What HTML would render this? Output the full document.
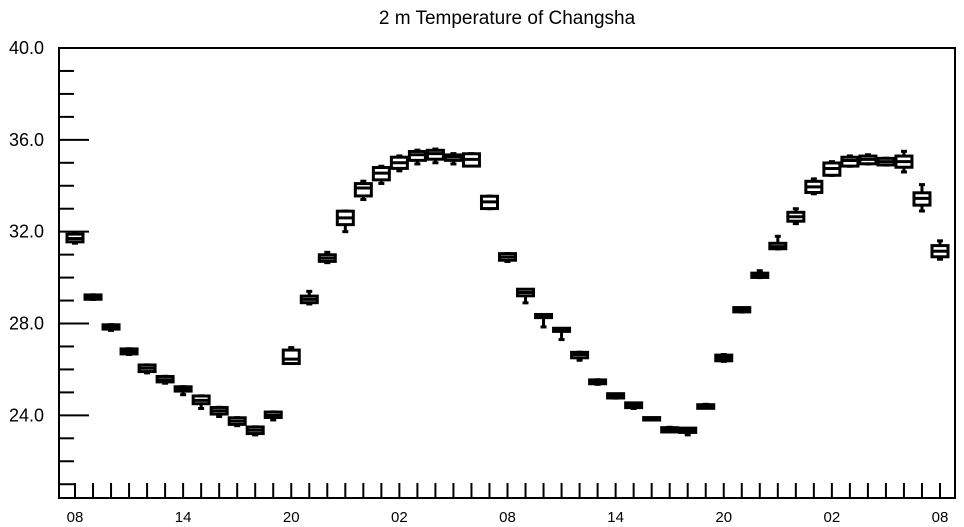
<!DOCTYPE html>
<html><head><meta charset="utf-8"><style>
body{margin:0;background:#fff;}
svg{display:block;font-family:"Liberation Sans",sans-serif;}
</style></head><body>
<svg id="chart" width="964" height="527" xmlns="http://www.w3.org/2000/svg">
<text x="507" y="24" text-anchor="middle" font-size="19">2 m Temperature of Changsha</text>
<g id="axes"></g>
<g id="boxes"></g>
</svg>
<script>
const hours = ["08","","","","","","14","","","","","","20","","","","","","02","","","","","","08","","","","","","14","","","","","","20","","","","","","02","","","","","","08"];
const mins = [31.5,29.05,27.7,26.65,25.85,25.4,24.9,24.3,23.95,23.55,23.15,23.8,26.3,28.85,30.65,32.0,33.4,34.1,34.65,34.95,35.0,34.95,34.9,33.0,30.7,28.9,27.85,27.3,26.4,25.35,24.75,24.3,23.83,23.3,23.15,24.33,26.35,28.5,30.0,31.25,32.35,33.65,34.45,34.85,34.95,34.9,34.6,32.9,30.8];
const q1s = [31.6,29.1,27.8,26.72,25.95,25.5,25.1,24.55,24.1,23.65,23.25,23.95,26.3,28.95,30.75,32.35,33.6,34.3,34.8,35.15,35.2,35.15,34.9,33.05,30.8,29.25,28.3,27.7,26.55,25.42,24.8,24.38,23.84,23.32,23.3,24.35,26.42,28.55,30.05,31.3,32.5,33.75,34.5,34.9,35.0,34.95,34.85,33.2,30.95];
const meds = [31.7,29.15,27.85,26.78,26.05,25.55,25.15,24.65,24.2,23.75,23.35,24.0,26.45,29.05,30.85,32.6,33.9,34.55,35.0,35.35,35.4,35.25,35.15,33.3,30.9,29.35,28.35,27.75,26.65,25.47,24.85,24.45,23.85,23.38,23.35,24.38,26.5,28.6,30.1,31.35,32.65,33.95,34.75,35.1,35.15,35.05,35.05,33.45,31.15];
const q3s = [31.85,29.2,27.9,26.85,26.15,25.65,25.2,24.8,24.3,23.85,23.45,24.1,26.8,29.15,30.95,32.85,34.05,34.75,35.2,35.45,35.5,35.3,35.35,33.5,31.0,29.45,28.35,27.75,26.7,25.5,24.9,24.5,23.86,23.42,23.4,24.42,26.58,28.65,30.15,31.45,32.8,34.15,34.95,35.2,35.25,35.15,35.25,33.65,31.35];
const maxs = [31.9,29.25,27.95,26.9,26.2,25.7,25.25,24.85,24.35,23.9,23.5,24.15,26.95,29.4,31.1,32.9,34.2,34.85,35.3,35.55,35.6,35.4,35.4,33.55,31.05,29.45,28.35,27.75,26.75,25.55,24.92,24.52,23.87,23.48,23.42,24.48,26.65,28.68,30.3,31.8,33.0,34.3,35.05,35.3,35.35,35.2,35.5,34.05,31.6];
const yTicks = [24,28,32,36,40];
const yLabels = ["24.0","28.0","32.0","36.0","40.0"];

const L=59,R=955,T=48,B=498;
const yMin=20.4,yMax=40;
const y=v=>B-(v-yMin)/(yMax-yMin)*(B-T);
const x=i=>75+i*(940-75)/48;
const NS="http://www.w3.org/2000/svg";
function mk(tag,attrs,parent){const e=document.createElementNS(NS,tag);for(const k in attrs)e.setAttribute(k,attrs[k]);parent.appendChild(e);return e;}
const ax=document.getElementById('axes');
let f=mk('rect',{x:L,y:T,width:R-L,height:B-T,fill:'none',stroke:'#000','stroke-width':2},ax);


for(let v=21;v<=40;v++){
  const major=yTicks.includes(v);
  const t=mk('line',{x1:L,x2:L+(major?30:15),y1:y(v),y2:y(v),stroke:'#000','stroke-width':2},ax);
  
  
}
yTicks.forEach((v,k)=>{
  const t=mk('text',{x:44,y:y(v)+6,'text-anchor':'end','font-size':18},ax);
  t.textContent=yLabels[k];
  
  
});
hours.forEach((h,i)=>{
  const t=mk('line',{x1:x(i),x2:x(i),y1:B,y2:B-15,stroke:'#000','stroke-width':2},ax);
  
  
  if(h){
    const l=mk('text',{x:x(i),y:522,'text-anchor':'middle','font-size':15},ax);
    l.textContent=h;
    
    
  }
});
const bx=document.getElementById('boxes');
meds.forEach((m,i)=>{
  const g=mk('g',{stroke:'#000','stroke-width':3,fill:'none'},bx);
  
  
  const cx=x(i),hw=8;
  mk('line',{x1:cx,x2:cx,y1:y(maxs[i]),y2:y(q3s[i])},g);
  mk('line',{x1:cx,x2:cx,y1:y(q1s[i]),y2:y(mins[i])},g);
  mk('line',{x1:cx-3,x2:cx+3,y1:y(maxs[i]),y2:y(maxs[i])},g);
  mk('line',{x1:cx-3,x2:cx+3,y1:y(mins[i]),y2:y(mins[i])},g);
  const top=y(q3s[i]),bot=y(q1s[i]);
  mk('rect',{x:cx-hw,y:top-1,width:2*hw,height:Math.max(bot-top+2,2),fill:'#fff'},g);
  mk('line',{x1:cx-hw,x2:cx+hw,y1:y(m),y2:y(m)},g);
});
</script>
</body></html>
